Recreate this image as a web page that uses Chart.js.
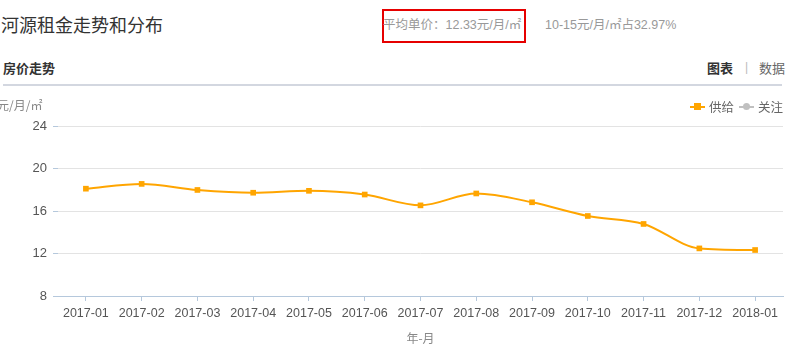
<!DOCTYPE html>
<html><head><meta charset="utf-8">
<script src="https://cdn.jsdelivr.net/npm/chart.js@4/dist/chart.umd.min.js"></script>
<style>
html,body{margin:0;padding:0;background:#fff;width:795px;height:357px;overflow:hidden;font-family:"Liberation Sans","Noto Sans CJK SC",sans-serif;}
.abs{position:absolute;white-space:nowrap;}
#title{left:1px;top:11px;font-size:18px;color:#333;font-family:"Noto Sans CJK SC";}
#box{left:382px;top:9px;width:140px;height:30px;border:2px solid #e60000;}
#avg{left:383px;top:14px;font-size:12.5px;color:#999;}
#dist{left:545px;top:14px;font-size:12.5px;color:#999;}
#sub{left:3px;top:58px;font-size:13px;font-weight:bold;color:#333;font-family:"Noto Sans CJK SC";}
#sep{left:3px;top:84px;width:779px;height:2px;background:#d3d7e0;}
#tab1{left:707px;top:58px;font-size:13px;font-weight:bold;color:#333;font-family:"Noto Sans CJK SC";}
#bar{left:745px;top:60px;font-size:12px;color:#bbb;}
#tab2{left:759px;top:58px;font-size:13px;color:#666;font-family:"Noto Sans CJK SC";}
#unit{left:-3px;top:96px;font-size:12px;color:#888;font-family:"Noto Sans CJK SC";}
#legend{right:12px;top:97px;font-size:12.5px;color:#666;font-family:"Noto Sans CJK SC";display:flex;align-items:center;}
.lg{display:inline-flex;align-items:center;margin-left:5px;}
.lg .ln{position:relative;width:15px;height:2px;margin-right:4px;}
.lg .mk{position:absolute;left:4px;top:-3px;width:7px;height:7px;}
.lg .mkc{border-radius:50%;}
#wrap{position:absolute;left:0;top:95px;width:795px;height:262px;}
</style></head>
<body>
<div class="abs" id="title">河源租金走势和分布</div>
<div class="abs" id="box"></div>
<div class="abs" id="avg">平均单价：12.33元/月/㎡</div>
<div class="abs" id="dist">10-15元/月/㎡占32.97%</div>
<div class="abs" id="sub">房价走势</div>
<div class="abs" id="tab1">图表</div>
<div class="abs" id="bar">|</div>
<div class="abs" id="tab2">数据</div>
<div class="abs" id="sep"></div>
<div id="wrap"><canvas id="c" width="795" height="262"></canvas></div>
<div class="abs" id="unit">元/月/㎡</div>
<div class="abs" id="legend"></div>
<script>
const categories = ["2017-01","2017-02","2017-03","2017-04","2017-05","2017-06","2017-07","2017-08","2017-09","2017-10","2017-11","2017-12","2018-01"];
const supplyValues = [18.1, 18.55, 17.98, 17.72, 17.9, 17.55, 16.53, 17.65, 16.82, 15.53, 14.78, 12.48, 12.33];
const attentionValues = [];
const yTicks = [8, 12, 16, 20, 24];
const seriesNames = ["供给", "关注"];
const seriesColors = ["#ffa500", "#c0c0c0"];

const lg = document.getElementById('legend');
seriesNames.forEach((n, i) => {
  const s = document.createElement('span'); s.className = 'lg';
  s.innerHTML = '<span class="ln" style="background:' + seriesColors[i] + '"><span class="mk' + (i ? ' mkc' : '') + '" style="background:' + seriesColors[i] + '"></span></span>' + n;
  lg.appendChild(s);
});

new Chart(document.getElementById('c'), {
  type: 'line',
  data: {
    labels: categories,
    datasets: [
      {label: seriesNames[0], data: supplyValues, borderColor: seriesColors[0], backgroundColor: seriesColors[0],
       borderWidth: 2, cubicInterpolationMode: 'monotone', pointStyle: 'rect', pointRadius: 4, pointBorderWidth: 0, fill: false},
      {label: seriesNames[1], data: attentionValues, borderColor: seriesColors[1], backgroundColor: seriesColors[1],
       borderWidth: 2, cubicInterpolationMode: 'monotone', pointRadius: 4}
    ]
  },
  options: {
    responsive: false, animation: false,
    layout: {padding: {top: 31, right: 12, left: 0, bottom: 0}},
    plugins: {legend: {display: false}, tooltip: {enabled: false}},
    scales: {
      x: {
        type: 'category', offset: true,
        grid: {display: true, drawOnChartArea: false, offset: false, tickLength: 5, tickColor: '#b5c8dc'},
        border: {color: '#b5c8dc', width: 1},
        ticks: {color: '#555', font: {size: 12.5, family: 'Liberation Sans'}, padding: 5, maxRotation: 0, autoSkip: false},
        title: {display: true, text: '年-月', color: '#888', font: {size: 12, family: 'Noto Sans CJK SC'}, padding: {top: 0, bottom: 11}},
        afterFit: s => { s.height = 61; }
      },
      y: {
        min: 8, max: 24,
        afterBuildTicks: s => { s.ticks = yTicks.map(v => ({value: v})); },
        grid: {color: '#e3e3e3', tickLength: 5, tickColor: '#b5c8dc'},
        border: {display: false},
        ticks: {color: '#555', font: {size: 13, family: 'Liberation Sans'}, padding: 6},
        afterFit: s => { s.width = 58; }
      }
    }
  }
});
</script>
</body></html>
